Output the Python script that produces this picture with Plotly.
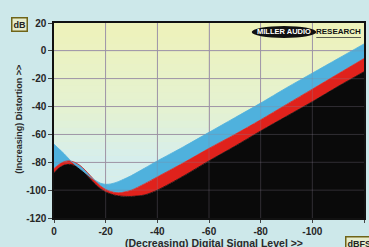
import plotly.graph_objects as go

# ---- data ----
level = [0, -2, -4, -6, -8, -10, -12, -14, -16, -18, -20, -22, -24, -26, -28, -30,
         -35, -40, -50, -60, -70, -80, -90, -100, -110, -120]
blue_curve = [-67, -70.5, -74, -78, -81.5, -84.5, -87.5, -90.5, -93, -95, -95.8, -95.5,
              -94.5, -93, -91.3, -89.5, -84.3, -79, -69, -58.5, -48, -37.5, -26.5, -16, -5.5, 5]
red_curve = [-84.5, -81.5, -79.5, -79, -80, -82.2, -85.5, -89.5, -93.5, -97, -99.5, -101,
             -101.8, -101.8, -101, -100, -95.5, -90.5, -80.5, -70, -60, -49.5, -38.5, -27.5, -16.5, -5.5]
black_curve = [-87.5, -84, -82, -81.5, -82.3, -84.5, -87.8, -91.8, -95.8, -99, -101.3, -102.8,
               -103.8, -104.3, -104.5, -104.5, -103.5, -100, -90, -79, -68.5, -57.5, -47, -36.5, -25.5, -15]
floor_db = -120
x_ticks = [0, -20, -40, -60, -80, -100, -120]
y_ticks = [20, 0, -20, -40, -60, -80, -100, -120]

W, H = 369, 247
ML, MR, MT, MB = 54, 3, 23, 29
PW, PH = W - ML - MR, H - MT - MB

def px(xp):
    return (xp - ML) / PW

def py(yp):
    return (H - MB - yp) / PH

fig = go.Figure()
fig.add_trace(go.Scatter(x=level, y=[floor_db] * len(level), mode="lines",
                         line=dict(width=0, color="black"), showlegend=False, hoverinfo="skip"))
for ys, col in [(black_curve, "#0a0a0a"), (red_curve, "#e0221c"), (blue_curve, "#4fb1dd")]:
    fig.add_trace(go.Scatter(x=level, y=ys, mode="lines", fill="tonexty", fillcolor=col,
                             line=dict(width=0.8, color=col, shape="spline", smoothing=0.8),
                             showlegend=False))

shapes = []
# background gradient (yellowish top -> pale cyan bottom)
top_c = (238, 242, 186)
mid_c = (228, 242, 210)
bot_c = (214, 238, 236)
n = 28
for i in range(n):
    y1 = 20 - i * 140 / n
    y0 = 20 - (i + 1) * 140 / n
    t = i / (n - 1)
    if t < 0.45:
        u = t / 0.45
        c = [round(top_c[k] + (mid_c[k] - top_c[k]) * u) for k in range(3)]
    else:
        u = min(1, (t - 0.45) / 0.25)
        c = [round(mid_c[k] + (bot_c[k] - mid_c[k]) * u) for k in range(3)]
    shapes.append(dict(type="rect", xref="x domain", yref="y", x0=0, x1=1, y0=y0, y1=y1,
                       fillcolor=f"rgb({c[0]},{c[1]},{c[2]})", line=dict(width=0), layer="below"))
# faint gridlines over the fills
for xv in x_ticks[1:-1]:
    shapes.append(dict(type="line", xref="x", yref="y domain", x0=xv, x1=xv, y0=0, y1=1,
                       line=dict(color="rgba(140,130,150,0.30)", width=1), layer="above"))
for yv in y_ticks[1:-1]:
    shapes.append(dict(type="line", xref="x domain", yref="y", x0=0, x1=1, y0=yv, y1=yv,
                       line=dict(color="rgba(140,130,150,0.30)", width=1), layer="above"))
# logo pill + underline
shapes.append(dict(type="circle", xref="paper", yref="paper", x0=px(253), x1=px(318),
                   y0=py(38), y1=py(26), fillcolor="#111111", line=dict(width=0), layer="above"))
shapes.append(dict(type="line", xref="paper", yref="paper", x0=px(318), x1=px(363),
                   y0=py(37.5), y1=py(37.5), line=dict(color="#333", width=0.8), layer="above"))

fig.update_layout(shapes=shapes)

bold = dict(family="Liberation Sans", size=10, color="#262626", weight="bold")
fig.update_xaxes(range=[0, -120], tickvals=x_ticks, ticktext=[str(v) for v in x_ticks],
                 tickfont=bold, ticks="outside", ticklen=3, tickcolor="#444",
                 showgrid=True, gridcolor="#aaa2b0", gridwidth=1, zeroline=False,
                 showline=True, linecolor="#111", linewidth=1.5, mirror=True)
fig.update_yaxes(range=[-120, 20], tickvals=y_ticks, ticktext=[str(v) for v in y_ticks],
                 tickfont=bold, ticks="outside", ticklen=4, tickcolor="#444",
                 showgrid=True, gridcolor="#aaa2b0", gridwidth=1, zeroline=False,
                 showline=True, linecolor="#111", linewidth=1.5, mirror=True)

ann = [
    dict(text="dB", x=px(19), y=py(24.5), xanchor="center", yanchor="middle",
         font=dict(family="Liberation Sans", size=9, color="#222", weight="bold"),
         bgcolor="#e6eccc", bordercolor="#6f6418", borderwidth=1.5, borderpad=1),
    dict(text="(Increasing) Distortion >>", x=px(18.5), y=py(119), textangle=-90,
         xanchor="center", yanchor="middle",
         font=dict(family="Liberation Sans", size=9, color="#2a2a2a", weight="bold")),
    dict(text="(Decreasing) Digital Signal Level >>", x=px(215), y=py(235),
         xanchor="center", yanchor="top",
         font=dict(family="Liberation Sans", size=10.5, color="#2a2a2a", weight="bold")),
    dict(text="dBFS", x=px(347), xanchor="left", y=py(236), yanchor="top",
         font=dict(family="Liberation Sans", size=9, color="#222", weight="bold"),
         bgcolor="#e6eccc", bordercolor="#6f6418", borderwidth=1.5, borderpad=1),
    dict(text="MILLER AUDIO", x=px(285.5), y=py(32), xanchor="center", yanchor="middle",
         font=dict(family="Liberation Sans", size=7.5, color="white", weight="bold")),
    dict(text="RESEARCH", x=px(340.5), y=py(32), xanchor="center", yanchor="middle",
         font=dict(family="Liberation Sans", size=8, color="#111", weight="bold")),
]
for a in ann:
    a.update(xref="paper", yref="paper", showarrow=False)
fig.update_layout(annotations=ann)

fig.update_layout(width=W, height=H, margin=dict(l=ML, r=MR, t=MT, b=MB, pad=0),
                  paper_bgcolor="#cde8ea", plot_bgcolor="#e4f0d0", showlegend=False)

fig.write_html("out.html", config={"displayModeBar": False},
               post_script="document.body.style.margin='0';document.body.style.overflow='hidden';")
